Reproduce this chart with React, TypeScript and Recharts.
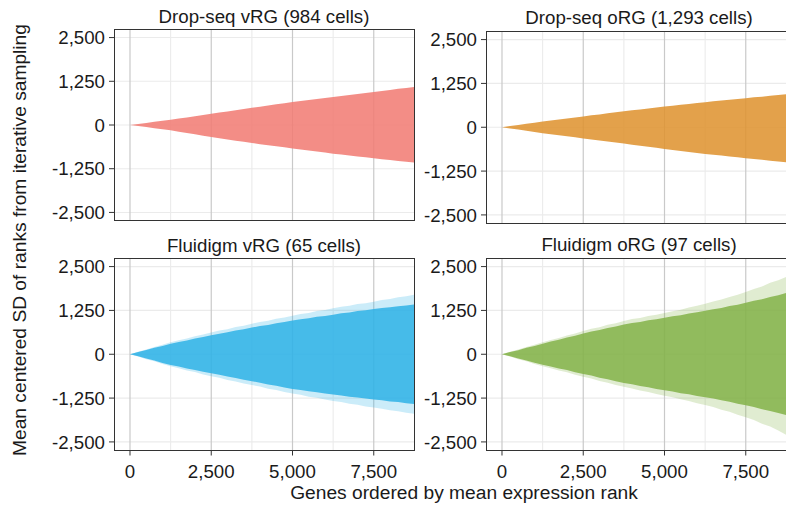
import { AreaChart, Area, XAxis, YAxis, CartesianGrid } from "recharts";

// gene rank positions (x)
const genes = [
  0, 250, 500, 750, 1000, 1250, 1500, 1750, 2000, 2250, 2500, 2750, 3000, 3250, 3500, 3750, 4000, 4250,
  4500, 4750, 5000, 5250, 5500, 5750, 6000, 6250, 6500, 6750, 7000, 7250, 7500, 7750, 8000, 8250, 8500, 8750,
];

const dropVrgHigh = [
  0, 31, 59, 91, 119, 150, 185, 217, 253, 285, 320, 355, 387, 423, 455, 490, 524, 555,
  590, 621, 655, 685, 712, 743, 770, 800, 830, 857, 888, 915, 945, 975, 1002, 1033, 1060, 1090,
];
const dropVrgLow = [
  0, -31, -59, -91, -119, -150, -190, -227, -268, -305, -345, -380, -412, -448, -480, -515, -547, -576,
  -609, -638, -670, -701, -729, -761, -789, -820, -847, -871, -899, -923, -950, -976, -999, -1026, -1049, -1075,
];

const dropOrgHigh = [
  0, 34, 65, 100, 131, 165, 195, 222, 253, 280, 310, 340, 367, 398, 425, 455, 483, 508,
  537, 562, 590, 616, 639, 666, 689, 715, 739, 760, 785, 806, 830, 853, 873, 897, 917, 940,
];
const dropOrgLow = [
  0, -35, -67, -103, -135, -170, -201, -228, -260, -287, -318, -348, -375, -407, -434, -464, -496, -525,
  -559, -588, -620, -649, -675, -705, -731, -760, -786, -809, -836, -859, -885, -909, -930, -955, -976, -1000,
];

const fluiVrgHigh = [
  0, 62, 118, 183, 238, 300, 350, 394, 447, 490, 540, 587, 625, 675, 713, 760, 803, 837,
  884, 917, 960, 997, 1025, 1066, 1093, 1130, 1166, 1191, 1230, 1255, 1290, 1320, 1339, 1372, 1391, 1420,
];
const fluiVrgLow = [
  0, -60, -124, -181, -246, -305, -351, -404, -447, -500, -545, -588, -638, -678, -728, -770, -811, -861,
  -899, -949, -990, -1019, -1057, -1083, -1121, -1150, -1175, -1209, -1231, -1265, -1290, -1313, -1345, -1365, -1397, -1420,
];
const fluiVrgSpikeHigh = [
  0, 72, 133, 209, 268, 340, 400, 448, 515, 560, 620, 676, 716, 778, 815, 870, 922, 957,
  1015, 1049, 1100, 1148, 1179, 1233, 1262, 1310, 1355, 1381, 1431, 1457, 1500, 1548, 1575, 1628, 1655, 1700,
];
const fluiVrgSpikeLow = [
  0, -66, -141, -203, -280, -345, -397, -462, -509, -574, -625, -671, -733, -774, -835, -880, -923, -982,
  -1019, -1078, -1120, -1157, -1210, -1241, -1294, -1330, -1363, -1412, -1439, -1488, -1520, -1551, -1598, -1623, -1670, -1700,
];

const fluiOrgHigh = [
  0, 63, 117, 184, 237, 300, 362, 412, 479, 528, 590, 646, 690, 751, 794, 850, 893, 921,
  969, 998, 1040, 1083, 1115, 1163, 1197, 1240, 1285, 1322, 1373, 1414, 1468, 1523, 1572, 1635, 1686, 1750,
];
const fluiOrgLow = [
  0, -58, -123, -177, -244, -300, -349, -408, -452, -513, -560, -608, -669, -712, -773, -820, -858, -909,
  -942, -993, -1030, -1065, -1109, -1143, -1189, -1226, -1265, -1315, -1355, -1409, -1456, -1505, -1566, -1615, -1679, -1735,
];
const fluiOrgSpikeHigh = [
  0, 72, 132, 209, 268, 340, 409, 463, 538, 591, 660, 724, 771, 840, 887, 950, 1002, 1037,
  1094, 1129, 1180, 1229, 1271, 1334, 1380, 1440, 1506, 1559, 1636, 1695, 1775, 1862, 1933, 2037, 2114, 2210,
];
const fluiOrgSpikeLow = [
  0, -65, -140, -200, -277, -340, -396, -465, -516, -585, -640, -693, -761, -810, -877, -930, -975, -1035,
  -1076, -1135, -1180, -1223, -1285, -1331, -1398, -1450, -1507, -1584, -1643, -1728, -1800, -1878, -1982, -2063, -2177, -2300,
];

const yTicks = [-2500, -1250, 0, 1250, 2500];
const xTicks = [0, 2500, 5000, 7500];
const xMinor = [1250, 3750, 6250];

const FONT = '"Liberation Sans", Arial, sans-serif';
const fmt = (v: number) => v.toLocaleString("en-US");

type PanelProps = {
  left: number;
  top: number;
  height: number;
  color: string;
  high: number[];
  low: number[];
  spikeHigh?: number[];
  spikeLow?: number[];
  showX: boolean;
};

function Panel({ left, top, height, color, high, low, spikeHigh, spikeLow, showX }: PanelProps) {
  const axisW = 70;
  const axisH = showX ? 32 : 0;
  const pad = 12;
  const rows = genes.map((g, i) => ({
    g,
    band: [low[i], high[i]],
    spike: spikeHigh && spikeLow ? [spikeLow[i], spikeHigh[i]] : [0, 0],
  }));
  return (
    <>
      <div style={{ position: "absolute", left: left - axisW, top: top - pad }}>
        <AreaChart
          width={axisW + 300}
          height={height + axisH + pad * 2}
          data={rows}
          margin={{ top: pad, right: 0, bottom: pad, left: 0 }}
        >
          <CartesianGrid horizontalValues={yTicks} vertical={false} stroke="#ebebeb" strokeWidth={1.1} />
          <CartesianGrid verticalValues={xMinor} horizontal={false} stroke="#ebebeb" strokeWidth={1.1} />
          <CartesianGrid verticalValues={xTicks} horizontal={false} stroke="#c9c9c9" strokeWidth={1.2} />
          <XAxis
            dataKey="g"
            type="number"
            domain={[-492, 8738]}
            allowDataOverflow
            ticks={xTicks}
            interval={0}
            hide={!showX}
            height={axisH}
            tickFormatter={fmt}
            tick={{ fontSize: 18.7, fill: "#1a1a1a", fontFamily: FONT }}
            tickSize={5}
            tickMargin={9}
            tickLine={{ stroke: "#333" }}
            axisLine={false}
          />
          <YAxis
            type="number"
            domain={[-2745, 2745]}
            ticks={yTicks}
            interval={0}
            width={axisW}
            tickFormatter={fmt}
            tick={{ fontSize: 18.7, fill: "#1a1a1a", fontFamily: FONT }}
            tickSize={5}
            tickMargin={4}
            tickLine={{ stroke: "#333" }}
            axisLine={false}
            allowDataOverflow
          />
          {spikeHigh && (
            <Area
              dataKey="spike"
              type="linear"
              stroke="none"
              fill={color}
              fillOpacity={0.25}
              isAnimationActive={false}
            />
          )}
          <Area
            dataKey="band"
            type="linear"
            stroke="none"
            fill={color}
            fillOpacity={0.86}
            isAnimationActive={false}
          />
        </AreaChart>
      </div>
      <div
        style={{
          position: "absolute",
          left,
          top,
          width: 301,
          height,
          border: "1.5px solid #333",
          boxSizing: "border-box",
          pointerEvents: "none",
        }}
      />
    </>
  );
}

export default function App() {
  return (
    <div
      style={{
        position: "absolute",
        left: 0,
        top: 0,
        width: 786,
        height: 508,
        overflow: "hidden",
        background: "#fff",
      }}
    >
      <Panel left={114} top={29} height={192} color="#f17a72" high={dropVrgHigh} low={dropVrgLow} showX={false} />
      <Panel left={486} top={31} height={192.5} color="#de912d" high={dropOrgHigh} low={dropOrgLow} showX={false} />
      <Panel
        left={114}
        top={258}
        height={192.5}
        color="#30b2e6"
        high={fluiVrgHigh}
        low={fluiVrgLow}
        spikeHigh={fluiVrgSpikeHigh}
        spikeLow={fluiVrgSpikeLow}
        showX
      />
      <Panel
        left={486}
        top={258}
        height={192.5}
        color="#83b249"
        high={fluiOrgHigh}
        low={fluiOrgLow}
        spikeHigh={fluiOrgSpikeHigh}
        spikeLow={fluiOrgSpikeLow}
        showX
      />
      <svg
        width={786}
        height={508}
        style={{ position: "absolute", left: 0, top: 0, pointerEvents: "none" }}
        fontFamily={FONT}
        fill="#1a1a1a"
      >
        <text x={264} y={23} fontSize={18.7} textAnchor="middle">Drop-seq vRG (984 cells)</text>
        <text x={639} y={23.5} fontSize={18.7} textAnchor="middle">Drop-seq oRG (1,293 cells)</text>
        <text x={264} y={251.5} fontSize={18.7} textAnchor="middle">Fluidigm vRG (65 cells)</text>
        <text x={639} y={251} fontSize={18.7} textAnchor="middle">Fluidigm oRG (97 cells)</text>
        <text x={464} y={499} fontSize={19.2} textAnchor="middle">Genes ordered by mean expression rank</text>
        <text x={26} y={240} fontSize={19.2} textAnchor="middle" transform="rotate(-90 26 240)">
          Mean centered SD of ranks from iterative sampling
        </text>
      </svg>
    </div>
  );
}
